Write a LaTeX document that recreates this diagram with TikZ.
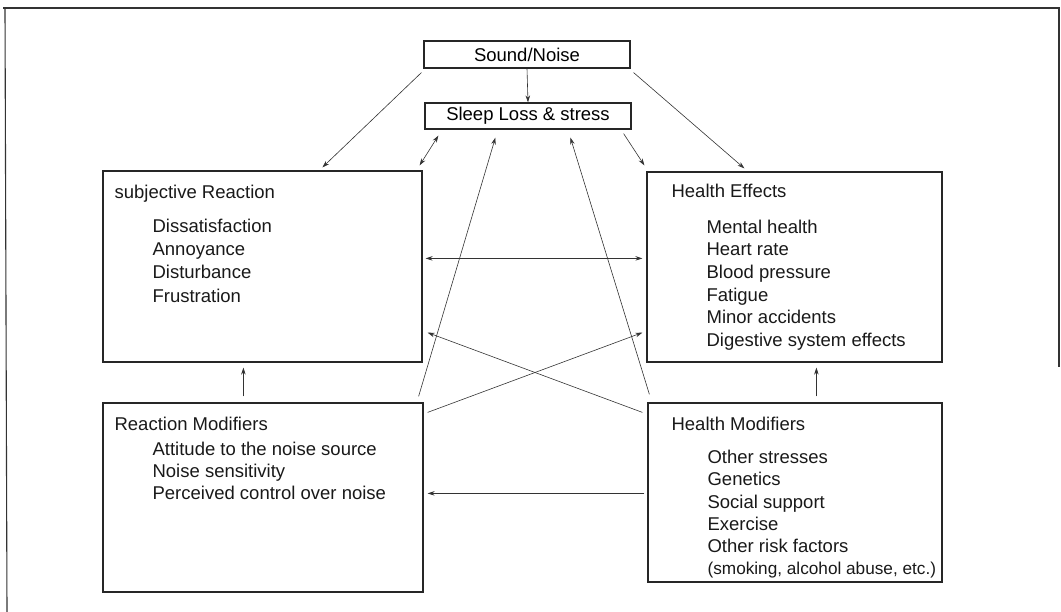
\documentclass[tikz,border=0pt]{standalone}
\usepackage{fontspec}
\setmainfont{Liberation Sans}
\usetikzlibrary{arrows.meta,calc}

\begin{document}
\begin{tikzpicture}[
  x=1pt, y=-1pt,
  font=\fontsize{18.5}{22}\selectfont,
  box/.style={draw=black!85, line width=1.2pt, inner sep=0pt},
  title/.style={anchor=base west, inner sep=0pt, text=black!90},
  item/.style={anchor=base west, inner sep=0pt, text=black!90},
  conn/.style={draw=black!80, line width=0.6pt, -{Stealth[length=7pt,width=4.5pt]}},
  dconn/.style={draw=black!80, line width=0.6pt, {Stealth[length=7pt,width=4.5pt]}-{Stealth[length=7pt,width=4.5pt]}},
  frame/.style={draw=black!80, line width=1.1pt}
]
\useasboundingbox (0,0) rectangle (1061,612);

% outer frame
\draw[frame] (3,8) -- (1059,8) -- (1059,367);
\draw[frame] (5,8) -- (7,612);

% top boxes
\node[box, minimum width=206pt, minimum height=27pt] (sound) at (527,54.5) {Sound/Noise};
\node[box, minimum width=206pt, minimum height=26pt] (sleep) at (528,116) {Sleep Loss \& stress};

% --- subjective reaction ---
\node[box, minimum width=319pt, minimum height=191pt] (subj) at (262.5,266.5) {};
\node[title] (subj-t) at ($(subj.north west)+(12,28)$) {subjective Reaction};
\foreach \t [count=\i] in {Dissatisfaction, Annoyance, Disturbance, Frustration}{
  \node[item] (subj-\i) at ($(subj.north west)+(50,{62+23.3*(\i-1)})$) {\t};
}

% --- health effects ---
\node[box, minimum width=295pt, minimum height=190pt] (heff) at (794.5,267) {};
\node[title] (heff-t) at ($(heff.north west)+(25,26)$) {Health Effects};
\foreach \t [count=\i] in {Mental health, Heart rate, Blood pressure, Fatigue,
  Minor accidents, Digestive system effects}{
  \node[item] (heff-\i) at ($(heff.north west)+(60,{62+22.6*(\i-1)})$) {\t};
}

% --- reaction modifiers ---
\node[box, minimum width=320pt, minimum height=189pt] (rmod) at (263,497.5) {};
\node[title] (rmod-t) at ($(rmod.north west)+(12,28)$) {Reaction Modifiers};
\foreach \t [count=\i] in {Attitude to the noise source, Noise sensitivity,
  Perceived control over noise}{
  \node[item] (rmod-\i) at ($(rmod.north west)+(50,{53+22*(\i-1)})$) {\t};
}

% --- health modifiers ---
\node[box, minimum width=294pt, minimum height=179pt] (hmod) at (795,492.5) {};
\node[title] (hmod-t) at ($(hmod.north west)+(24,28)$) {Health Modifiers};
\foreach \t [count=\i] in {Other stresses, Genetics, Social support, Exercise,
  Other risk factors}{
  \node[item] (hmod-\i) at ($(hmod.north west)+(60,{61+22.3*(\i-1)})$) {\t};
}
\node[item, font=\fontsize{17.2}{22}\selectfont] (hmod-6) at ($(hmod.north west)+(60,172.5)$)
  {(smoking, alcohol abuse, etc.)};

% connectors from the top
\draw[conn] (sound.south) -- (sleep.north);
\draw[conn] ($(sound.south west)+(-2,4)$) -- ($(subj.north west)+(220,-3)$);
\draw[conn] ($(sound.south east)+(3,4)$) -- ($(heff.north west)+(98,-3)$);
\draw[dconn] ($(sleep.south west)+(14,6)$) -- ($(subj.north east)+(-3,-5)$);
\draw[conn] ($(sleep.south east)+(-8,4)$) -- ($(heff.north west)+(-2,-6)$);

% modifiers to sleep loss
\draw[conn] ($(rmod.north east)+(-5,-6)$) -- ($(sleep.south west)+(71,8)$);
\draw[conn] ($(hmod.north west)+(2,-8)$) -- ($(sleep.south west)+(146,8)$);

% between the big boxes
\draw[dconn] ($(subj.north east)+(3,88)$) -- ($(heff.north west)+(-4,87)$);
\draw[conn] ($(hmod.north west)+(-5,10)$) -- ($(subj.south east)+(5,-30)$);
\draw[conn] ($(rmod.north east)+(4,10)$) -- ($(heff.south west)+(-4,-30)$);
\draw[conn] ($(rmod.north west)+(141,-6)$) -- ($(subj.south west)+(141,5)$);
\draw[conn] ($(hmod.north west)+(169,-6)$) -- ($(heff.south west)+(170,5)$);
\draw[conn] ($(hmod.north west)+(-3,91)$) -- ($(rmod.north east)+(4,91)$);

\end{tikzpicture}
\end{document}
